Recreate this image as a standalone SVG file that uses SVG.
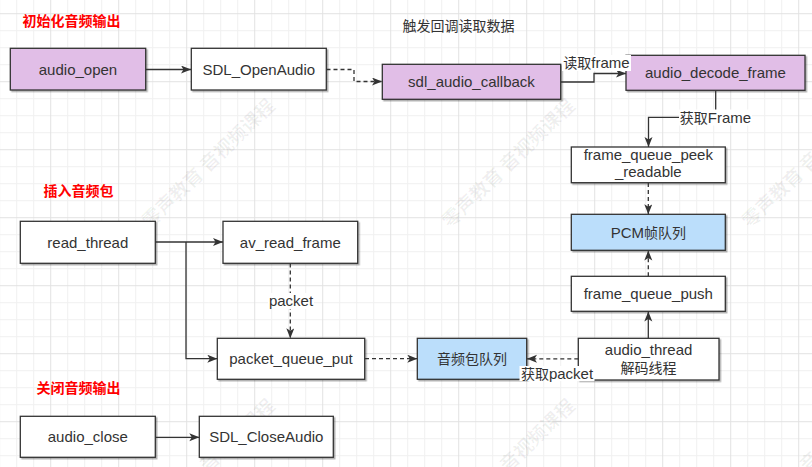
<svg xmlns="http://www.w3.org/2000/svg" width="812" height="467" viewBox="0 0 812 467">
  <defs>
    <pattern id="grid" patternUnits="userSpaceOnUse" x="50.2" y="13.2" width="68" height="68">
      <rect x="0" y="0" width="68" height="68" fill="#ffffff"/>
      <rect x="17" y="0" width="1" height="68" fill="#f0f0f0"/>
      <rect x="34" y="0" width="1" height="68" fill="#f0f0f0"/>
      <rect x="51" y="0" width="1" height="68" fill="#f0f0f0"/>
      <rect x="0" y="17" width="68" height="1" fill="#f0f0f0"/>
      <rect x="0" y="34" width="68" height="1" fill="#f0f0f0"/>
      <rect x="0" y="51" width="68" height="1" fill="#f0f0f0"/>
      <rect x="0" y="0" width="1" height="68" fill="#e2e2e2"/>
      <rect x="0" y="0" width="68" height="1" fill="#e2e2e2"/>
    </pattern>
    <marker id="arr" markerUnits="userSpaceOnUse" markerWidth="12" markerHeight="10" refX="10" refY="4" orient="auto">
      <path d="M0,0 L10,4 L0,8 L2.5,4 Z" fill="#333333"/>
    </marker>
    <filter id="shadow" x="-10%" y="-10%" width="130%" height="140%">
      <feDropShadow dx="1.5" dy="1.5" stdDeviation="0.6" flood-color="#000000" flood-opacity="0.3"/>
    </filter>
    <style>
      .node rect { stroke: #333333; stroke-width: 1.3; filter: url(#shadow); }
      .white { fill: #ffffff; }
      .purple { fill: #e1bee7; }
      .blue { fill: #bbdefb; }
      .lbl { font-family: "Liberation Sans", "Noto Sans CJK SC", sans-serif; font-size: 15px; fill: #333333; text-anchor: middle; }
      .cjk { font-family: "Noto Sans CJK SC", sans-serif; font-size: 14px; }
      .title { font-family: "Noto Sans CJK SC", "Noto Sans", sans-serif; font-size: 14px; font-weight: bold; fill: #ff0000; }
      .note { font-family: "Noto Sans CJK SC", "Noto Sans", sans-serif; font-size: 14px; fill: #333333; }
      .edge { fill: none; stroke: #333333; stroke-width: 1.3; }
      .dash { stroke-dasharray: 4 3; }
      .wm { font-family: "Noto Sans CJK SC", sans-serif; font-size: 19px; font-weight: bold; fill: #000000; fill-opacity: 0.06; }
      .lblbg { fill: #ffffff; }
    </style>
  </defs>

  <rect x="0" y="0" width="812" height="467" fill="url(#grid)"/>

  <g id="watermarks">
    <text class="wm" transform="translate(150,229) rotate(-44)">零声教育 音视频课程</text>
    <text class="wm" transform="translate(450,229) rotate(-44)">零声教育 音视频课程</text>
    <text class="wm" transform="translate(750,229) rotate(-44)">零声教育 音视频课程</text>
    <text class="wm" transform="translate(150,529) rotate(-44)">零声教育 音视频课程</text>
    <text class="wm" transform="translate(450,529) rotate(-44)">零声教育 音视频课程</text>
    <text class="wm" transform="translate(750,529) rotate(-44)">零声教育 音视频课程</text>
  </g>

  <g id="titles">
    <text class="title" x="22.5" y="25.5">初始化音频输出</text>
    <text class="title" x="43.5" y="195.5">插入音频包</text>
    <text class="title" x="36.5" y="393">关闭音频输出</text>
    <text class="note" x="402.5" y="30.5">触发回调读取数据</text>
  </g>

  <g id="audio_open" class="node">
    <rect class="purple" x="10.3" y="48.3" width="135.4" height="41.7"/>
    <text class="lbl" x="78" y="74.5">audio_open</text>
  </g>
  <g id="SDL_OpenAudio" class="node">
    <rect class="white" x="191.3" y="48.3" width="135" height="41.7"/>
    <text class="lbl" x="258.8" y="74.5">SDL_OpenAudio</text>
  </g>
  <g id="sdl_audio_callback" class="node">
    <rect class="purple" x="382.3" y="64.3" width="178.4" height="35"/>
    <text class="lbl" x="471.5" y="87.3">sdl_audio_callback</text>
  </g>
  <g id="audio_decode_frame" class="node">
    <rect class="purple" x="626" y="55.3" width="179" height="35"/>
    <text class="lbl" x="715.5" y="78.3">audio_decode_frame</text>
  </g>
  <g id="frame_queue_peek_readable" class="node">
    <rect class="white" x="571.3" y="147" width="154" height="35.7"/>
    <text class="lbl" x="648.3" y="160">frame_queue_peek</text>
    <text class="lbl" x="648.3" y="177">_readable</text>
  </g>
  <g id="pcm_queue" class="node">
    <rect class="blue" x="571.3" y="214.3" width="154" height="36"/>
    <text class="lbl" x="648.3" y="237.5">PCM<tspan class="cjk">帧队列</tspan></text>
  </g>
  <g id="frame_queue_push" class="node">
    <rect class="white" x="571.3" y="276.3" width="154" height="35"/>
    <text class="lbl" x="648.3" y="299.3">frame_queue_push</text>
  </g>
  <g id="audio_thread" class="node">
    <rect class="white" x="578.3" y="338.3" width="140.7" height="41.7"/>
    <text class="lbl" x="648.6" y="354.5">audio_thread</text>
    <text class="lbl" x="648.6" y="372.5"><tspan class="cjk">解码线程</tspan></text>
  </g>
  <g id="packet_queue" class="node">
    <rect class="blue" x="417.3" y="338.3" width="109.4" height="41"/>
    <text class="lbl" x="472" y="363.8"><tspan class="cjk">音频包队列</tspan></text>
  </g>
  <g id="read_thread" class="node">
    <rect class="white" x="20.3" y="221.3" width="135" height="42"/>
    <text class="lbl" x="87.8" y="247.5">read_thread</text>
  </g>
  <g id="av_read_frame" class="node">
    <rect class="white" x="223" y="221.3" width="134.7" height="42"/>
    <text class="lbl" x="290.3" y="247.5">av_read_frame</text>
  </g>
  <g id="packet_queue_put" class="node">
    <rect class="white" x="217.3" y="338.3" width="147.4" height="41"/>
    <text class="lbl" x="291" y="364.3">packet_queue_put</text>
  </g>
  <g id="audio_close" class="node">
    <rect class="white" x="20.3" y="416.3" width="135" height="41"/>
    <text class="lbl" x="87.8" y="442.3">audio_close</text>
  </g>
  <g id="SDL_CloseAudio" class="node">
    <rect class="white" x="199.3" y="416.3" width="134" height="41"/>
    <text class="lbl" x="266.3" y="442.3">SDL_CloseAudio</text>
  </g>

  <g id="connectors">
    <path class="edge" d="M146,69.5 H191" marker-end="url(#arr)"/>
    <path class="edge dash" d="M326.5,69.5 H354 V81.5 H382" marker-end="url(#arr)"/>
    <path class="edge" d="M561,82 H594 V73.5 H626" marker-end="url(#arr)"/>
    <path class="edge" d="M715.7,90.5 V117.3 H648.5 V147" marker-end="url(#arr)"/>
    <path class="edge dash" d="M648.3,183 V214.3" marker-end="url(#arr)"/>
    <path class="edge dash" d="M648.3,276.3 V250.5" marker-end="url(#arr)"/>
    <path class="edge" d="M648.3,338.3 V311.5" marker-end="url(#arr)"/>
    <path class="edge dash" d="M578.3,358.8 H527" marker-end="url(#arr)"/>
    <path class="edge" d="M155.5,242 H223" marker-end="url(#arr)"/>
    <path class="edge" d="M186,242 V358.7 H217.3" marker-end="url(#arr)"/>
    <path class="edge dash" d="M290.3,263.5 V338.3" marker-end="url(#arr)"/>
    <path class="edge dash" d="M365,358.7 H417.3" marker-end="url(#arr)"/>
    <path class="edge" d="M155.5,437.3 H199.3" marker-end="url(#arr)"/>

    <rect class="lblbg" x="562" y="55" width="69" height="16"/>
    <text class="lbl" x="596.5" y="68"><tspan class="cjk">读取</tspan>frame</text>
    <rect class="lblbg" x="679" y="109.5" width="73" height="16"/>
    <text class="lbl" x="715.5" y="122.5"><tspan class="cjk">获取</tspan>Frame</text>
    <rect class="lblbg" x="519.5" y="366" width="75" height="15"/>
    <text class="lbl" x="557" y="378.5"><tspan class="cjk">获取</tspan>packet</text>
    <rect class="lblbg" x="268" y="293" width="46" height="16"/>
    <text class="lbl" x="291" y="306">packet</text>
  </g>
</svg>
